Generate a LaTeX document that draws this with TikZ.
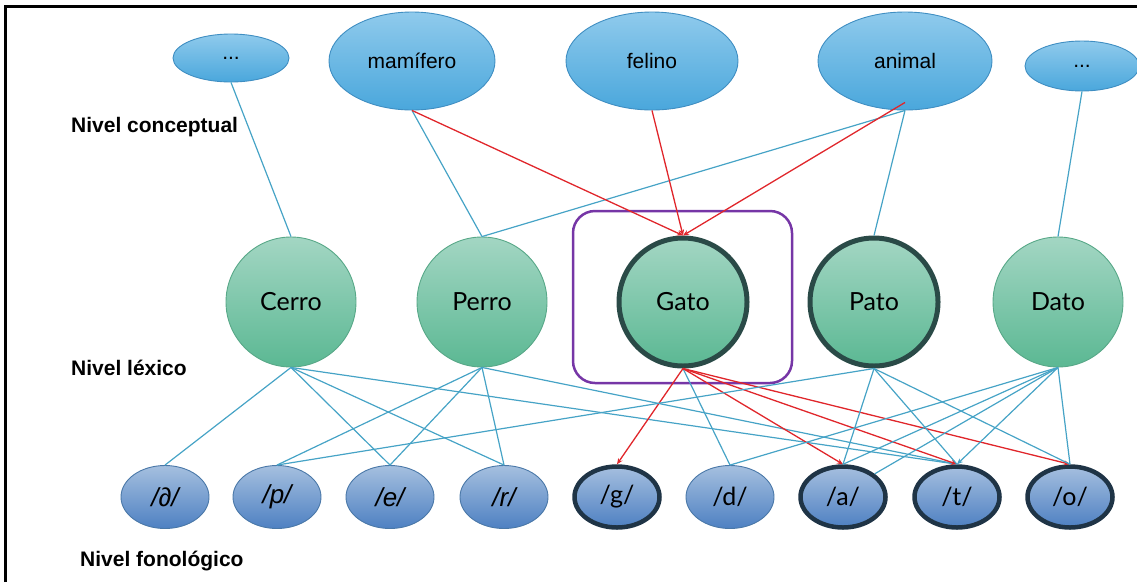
\documentclass[tikz,border=0pt]{standalone}
\usepackage{fontspec}
\setmainfont{Liberation Sans}
\newfontfamily\gill{Lato}
\usetikzlibrary{shapes.geometric,arrows.meta}

\definecolor{conceptTop}{HTML}{8FCAEC}
\definecolor{conceptBot}{HTML}{4AA7DC}
\definecolor{conceptEdge}{HTML}{3F8EC2}
\definecolor{lexTop}{HTML}{A3D6C3}
\definecolor{lexBot}{HTML}{5BB893}
\definecolor{lexEdge}{HTML}{58A888}
\definecolor{phonTop}{HTML}{A5BFDF}
\definecolor{phonBot}{HTML}{4E80C2}
\definecolor{phonEdge}{HTML}{4A78A8}
\definecolor{darkRim}{HTML}{2A4A47}
\definecolor{darkRimB}{HTML}{1F3446}
\definecolor{linkBlue}{HTML}{46A3C6}
\definecolor{linkRed}{HTML}{E0262B}
\definecolor{focusPurple}{HTML}{7636A6}

\tikzset{
  concept/.style={ellipse, draw=conceptEdge, line width=0.9pt,
    top color=conceptTop, bottom color=conceptBot, inner sep=0pt,
    font=\fontsize{21}{25}\selectfont},
  lexeme/.style={circle, draw=lexEdge, line width=0.9pt,
    top color=lexTop, bottom color=lexBot, minimum size=130pt, inner sep=0pt,
    font=\gill\fontsize{25}{30}\selectfont},
  lexactive/.style={lexeme, draw=darkRim, line width=5pt, minimum size=128pt},
  phoneme/.style={ellipse, draw=phonEdge, line width=0.9pt,
    top color=phonTop, bottom color=phonBot, minimum width=88pt,
    minimum height=63pt, inner sep=0pt,
    font=\fontsize{26}{30}\selectfont\itshape},
  phonactive/.style={phoneme, draw=darkRimB, line width=4.5pt,
    minimum width=85pt, minimum height=61pt, font=\gill\fontsize{25}{30}\selectfont},
  levellabel/.style={anchor=west, font=\bfseries\fontsize{21}{25}\selectfont, inner sep=0pt},
  blueline/.style={draw=linkBlue, line width=1.2pt},
  redline/.style={draw=linkRed, line width=1.3pt, -{Stealth[length=6pt,width=5pt]}},
  bluearrow/.style={blueline, -{Stealth[length=6pt,width=5pt]}},
}

\begin{document}
\begin{tikzpicture}[x=1pt,y=-1pt]
\useasboundingbox (0,0) rectangle (1137,582);

% frame
\draw[line width=2.5pt] (5.5,582) -- (5.5,6.5) -- (1137,6.5);

% level labels
\node[levellabel] (lc) at (71,127) {Nivel conceptual};
\node[levellabel] (ll) at (71,368) {Nivel léxico};
\node[levellabel] (lf) at (80,561) {Nivel fonológico};

% conceptual level
\node[concept, minimum width=116pt, minimum height=48pt] (k1) at (231,58) {...};
\node[concept, minimum width=166pt, minimum height=98pt] (mam) at (412,61) {mamífero};
\node[concept, minimum width=172pt, minimum height=98pt] (fel) at (652,61) {felino};
\node[concept, minimum width=174pt, minimum height=98pt] (ani) at (905,61) {animal};
\node[concept, minimum width=114pt, minimum height=50pt] (k5) at (1082,66) {...};

% focus box around the selected word
\draw[focusPurple, line width=2.5pt, rounded corners=22pt] (573,211) rectangle (792,383);

% lexical level
\node[lexeme] (cerro) at (291,302) {Cerro};
\node[lexeme] (perro) at (482,302) {Perro};
\node[lexactive] (gato) at (683,302) {Gato};
\node[lexactive] (pato) at (874,302) {Pato};
\node[lexeme] (dato) at (1058,302) {Dato};

% phonological level
\node[phoneme] (schwa) at (165,497) {/∂/};
\node[phoneme] (p) at (277,497) {/p/};
\node[phoneme] (e) at (390,497) {/e/};
\node[phoneme] (r) at (504,497) {/r/};
\node[phonactive] (g) at (617,497) {/g/};
\node[phoneme, font=\gill\fontsize{25}{30}\selectfont] (d) at (730,497) {/d/};
\node[phonactive] (a) at (843,497) {/a/};
\node[phonactive] (t) at (957,497) {/t/};
\node[phonactive] (o) at (1070,497) {/o/};

% concept -> word links
\draw[blueline] (k1.south) -- (cerro.north);
\draw[blueline] (mam.south) -- (perro.north);
\draw[blueline] (ani.south) -- (perro.north);
\draw[blueline] (ani.south) -- (pato.north);
\draw[blueline] (k5.south) -- (dato.north);
\draw[redline] (mam.south) -- (gato.north);
\draw[redline] (fel.south) -- (gato.north);
\draw[redline] ([yshift=8pt]ani.south) -- (gato.north);

% word -> phoneme links
\draw[blueline] (cerro.south) -- (schwa.north);
\draw[blueline] (cerro.south) -- (e.north);
\draw[blueline] (cerro.south) -- (r.north);
\draw[blueline] (cerro.south) -- (t.north);
\draw[blueline] (perro.south) -- (p.north);
\draw[blueline] (perro.south) -- (e.north);
\draw[blueline] (perro.south) -- (r.north);
\draw[blueline] (perro.south) -- (t.north);
\draw[blueline] (gato.south) -- (d.north);
\draw[redline] (gato.south) -- (g.north);
\draw[redline] (gato.south) -- (a.north);
\draw[redline] (gato.south) -- (t.north);
\draw[redline] (gato.south) -- (o.north);
\draw[blueline] (pato.south) -- (p.north);
\draw[blueline] (pato.south) -- (a.north);
\draw[blueline] (pato.south) -- (t.north);
\draw[blueline] (pato.south) -- (o.north);
\draw[blueline] (dato.south) -- (d.north);
\draw[blueline] (dato.south) -- (a.north);
\draw[blueline] (dato.south) -- (a.north east);
\draw[bluearrow] (dato.south) -- (t.north);
\draw[blueline] (dato.south) -- (o.north);
\end{tikzpicture}
\end{document}
